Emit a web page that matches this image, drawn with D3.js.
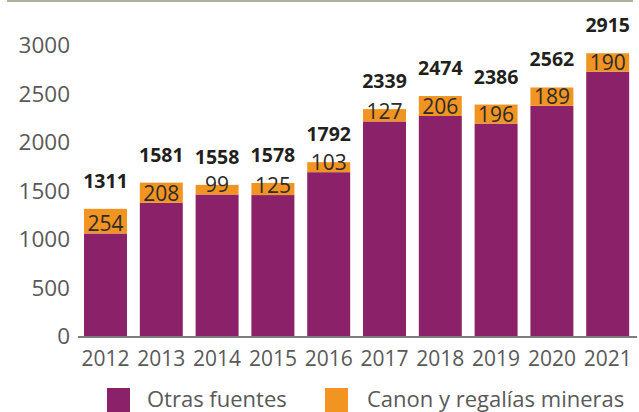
<!DOCTYPE html>
<html>
<head>
<meta charset="utf-8">
<script src="https://cdn.jsdelivr.net/npm/d3@7"></script>
<style>
  body { margin: 0; background: #fff; }
  svg { display: block; font-family: "Open Sans", sans-serif; }
</style>
</head>
<body>
<div id="chart"></div>
<script>
// data
var years = ["2012","2013","2014","2015","2016","2017","2018","2019","2020","2021"];
var otras = [1057, 1373, 1459, 1453, 1689, 2212, 2268, 2190, 2373, 2725];
var canon = [254, 208, 99, 125, 103, 127, 206, 196, 189, 190];
var yTicks = [0, 500, 1000, 1500, 2000, 2500, 3000];
var seriesNames = ["Otras fuentes", "Canon y regalías mineras"];

var purple = "#8b2269", orange = "#f29422";

var width = 639, height = 412;

var svg = d3.select("#chart")
  .append("svg")
  .attr("width", width)
  .attr("height", height);

// thin rule at top
svg.append("line")
  .attr("x1", 7).attr("x2", 633)
  .attr("y1", 1).attr("y2", 1)
  .attr("stroke", "#a9b39c")
  .attr("stroke-width", 2);

var x = d3.scaleBand()
  .domain(years)
  .range([77.6, 635.6])
  .paddingInner(0.23)
  .paddingOuter(0.115);

var y = d3.scaleLinear()
  .domain([0, 3000])
  .range([336, 45]);

var rows = years.map(function(yr, i) {
  return { year: yr, otras: otras[i], canon: canon[i], total: otras[i] + canon[i] };
});

// y tick labels (no axis line)
svg.append("g")
  .selectAll("text")
  .data(yTicks)
  .enter()
  .append("text")
    .attr("x", 70)
    .attr("y", function(d) { return y(d); })
    .attr("dy", "0.36em")
    .attr("text-anchor", "end")
    .style("font-size", "22.5px")
    .style("fill", "#595959")
    .text(function(d) { return d; });

// bars: otras fuentes
svg.append("g")
  .selectAll("rect")
  .data(rows)
  .enter()
  .append("rect")
    .attr("x", function(d) { return x(d.year); })
    .attr("width", x.bandwidth())
    .attr("y", function(d) { return y(d.otras); })
    .attr("height", function(d) { return y(0) - y(d.otras); })
    .attr("fill", purple);

// bars: canon
svg.append("g")
  .selectAll("rect")
  .data(rows)
  .enter()
  .append("rect")
    .attr("x", function(d) { return x(d.year); })
    .attr("width", x.bandwidth())
    .attr("y", function(d) { return y(d.total); })
    .attr("height", function(d) { return y(d.otras) - y(d.total); })
    .attr("fill", orange);

// canon labels
svg.append("g")
  .selectAll("text")
  .data(rows)
  .enter()
  .append("text")
    .attr("x", function(d) { return x(d.year) + x.bandwidth() / 2; })
    .attr("y", function(d) { return y(d.otras) - 2; })
    .attr("text-anchor", "middle")
    .style("font-size", "21px")
    .style("fill", "#2b2b2b")
    .text(function(d) { return d.canon; });

// totals
svg.append("g")
  .selectAll("text")
  .data(rows)
  .enter()
  .append("text")
    .attr("x", function(d) { return x(d.year) + x.bandwidth() / 2; })
    .attr("y", function(d) { return y(d.total) - 21; })
    .attr("text-anchor", "middle")
    .style("font-size", "19.5px")
    .style("font-weight", "bold")
    .style("fill", "#231f20")
    .text(function(d) { return d.total; });

// x axis
svg.append("line")
  .attr("x1", 78).attr("x2", 637)
  .attr("y1", y(0) + 1).attr("y2", y(0) + 1)
  .attr("stroke", "#7f7f7f")
  .attr("stroke-width", 2);

svg.append("g")
  .selectAll("text")
  .data(years)
  .enter()
  .append("text")
    .attr("x", function(d) { return x(d) + x.bandwidth() / 2; })
    .attr("y", 366)
    .attr("text-anchor", "middle")
    .style("font-size", "21px")
    .style("fill", "#595959")
    .text(function(d) { return d; });

// legend
var legendX = [107, 325];
var legend = svg.append("g")
  .selectAll("g")
  .data(seriesNames)
  .enter()
  .append("g")
    .attr("transform", function(d, i) { return "translate(" + legendX[i] + ",388)"; });

legend.append("rect")
  .attr("width", 23)
  .attr("height", 24)
  .attr("fill", function(d, i) { return i == 0 ? purple : orange; });

legend.append("text")
  .attr("x", function(d, i) { return i == 0 ? 40 : 42; })
  .attr("y", 19)
  .style("font-size", "22px")
  .style("fill", "#595959")
  .text(function(d) { return d; });
</script>
</body>
</html>
